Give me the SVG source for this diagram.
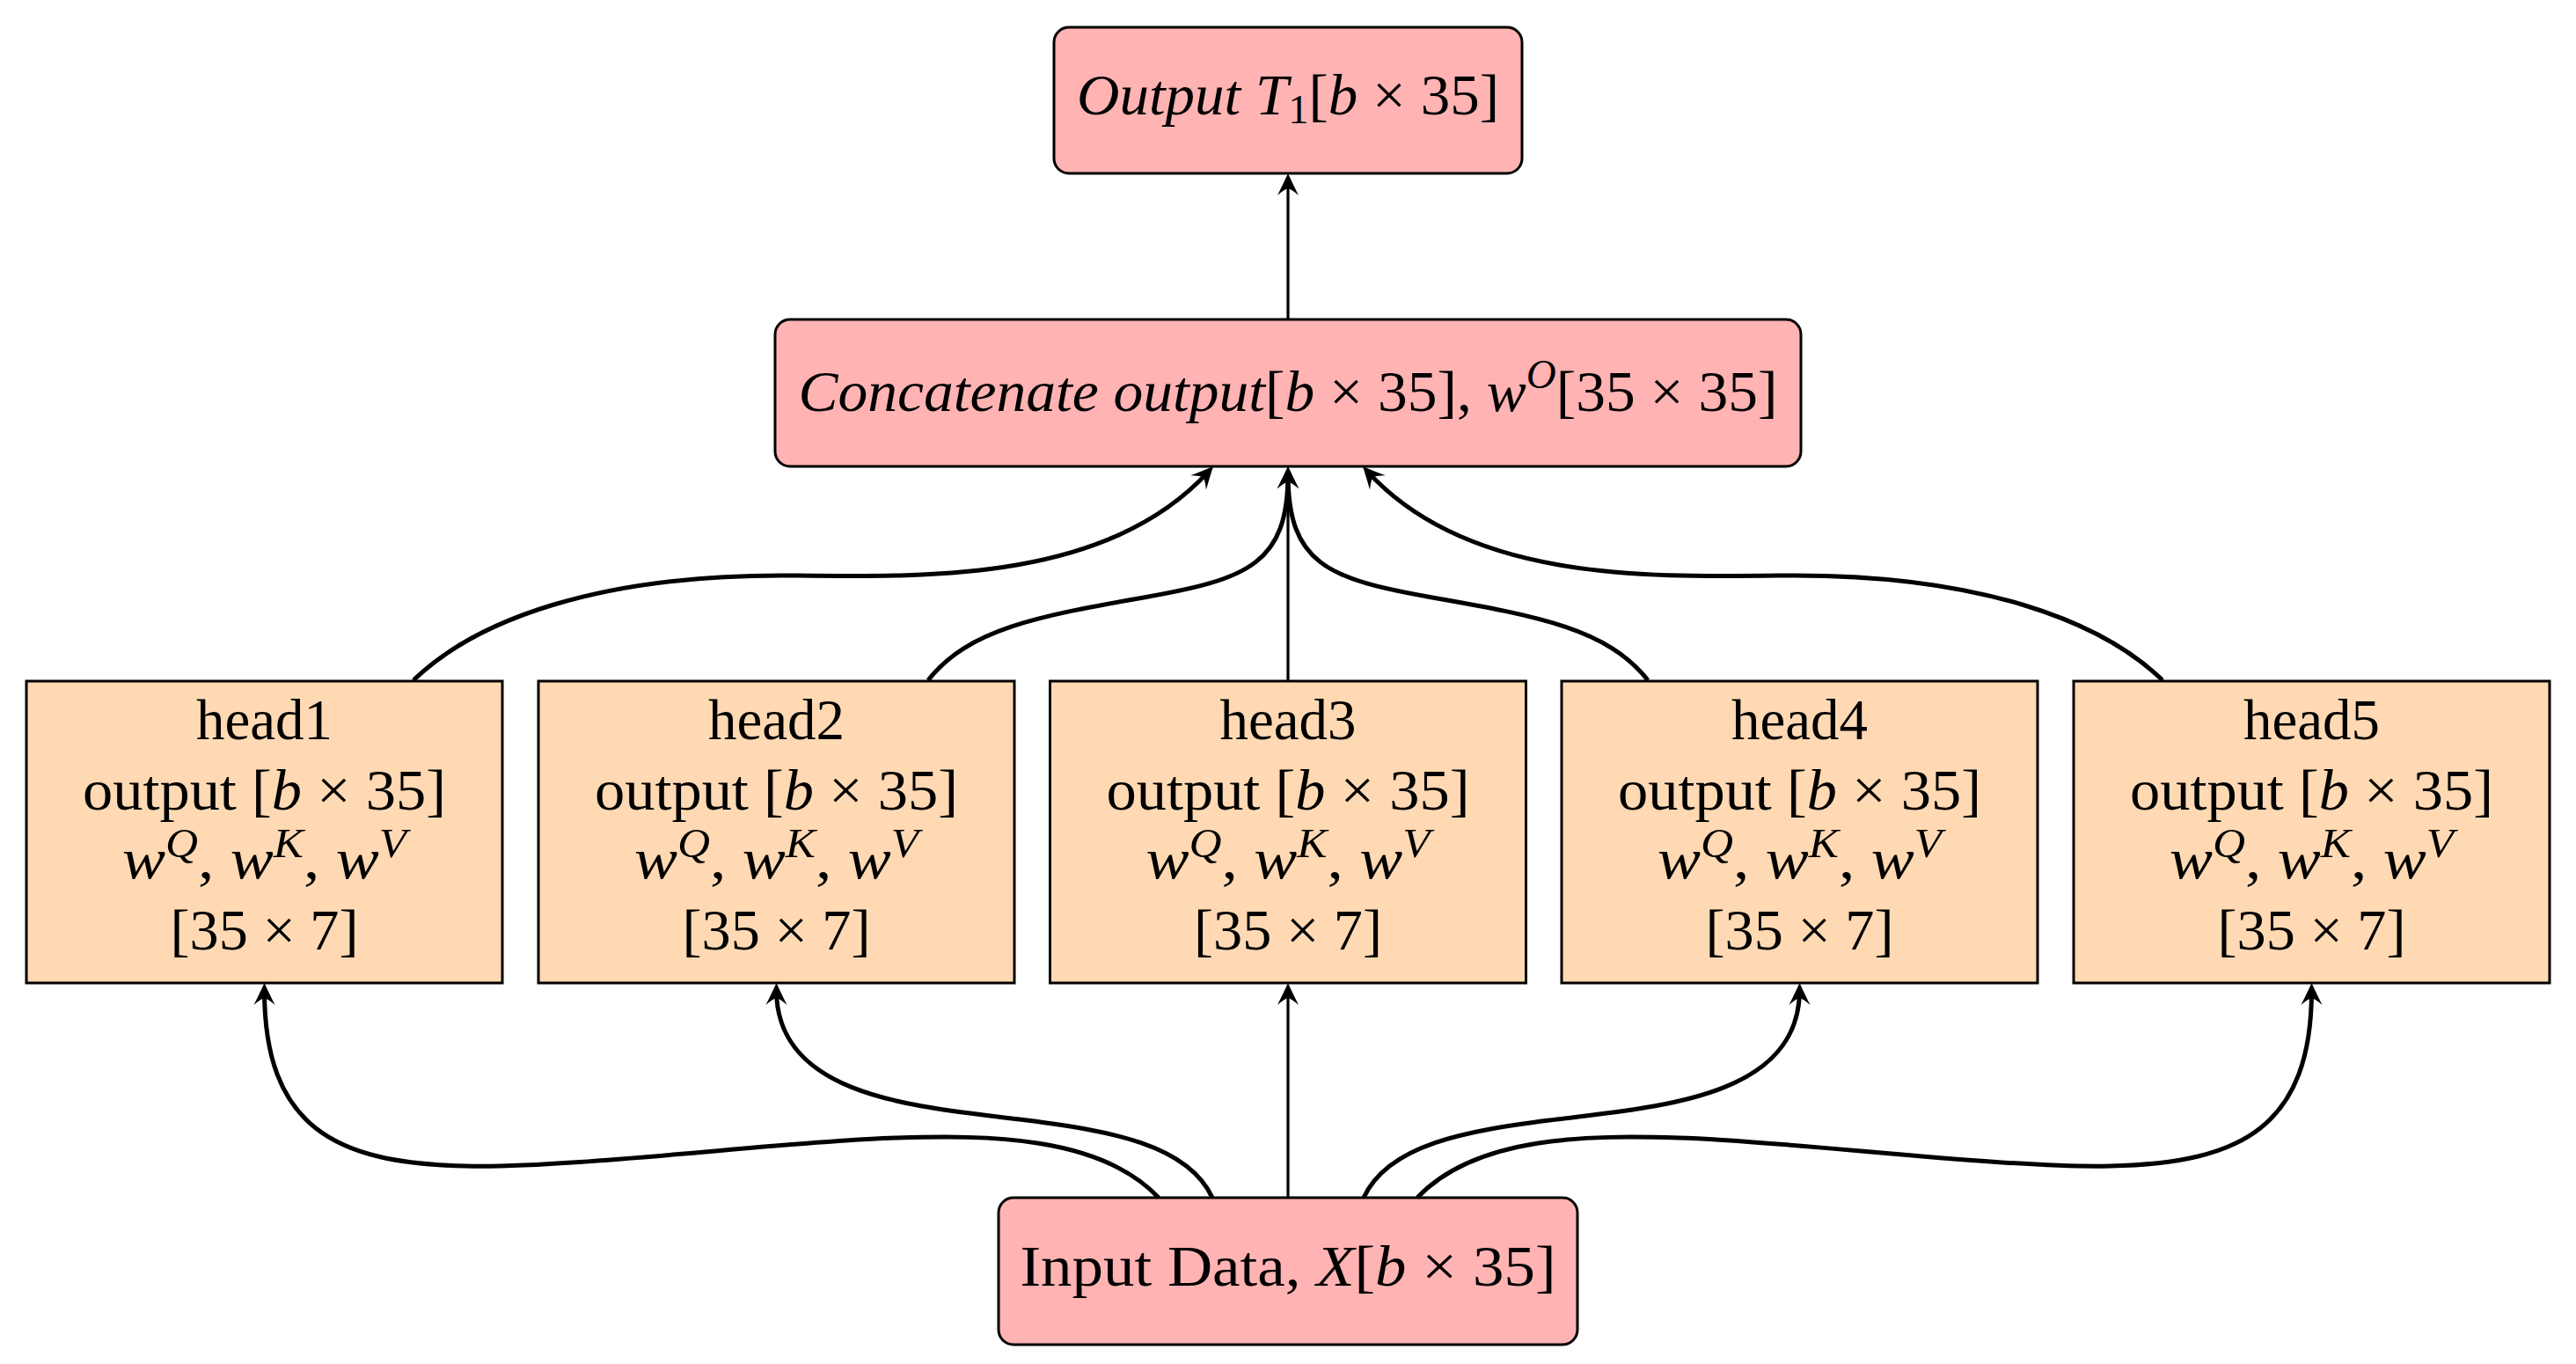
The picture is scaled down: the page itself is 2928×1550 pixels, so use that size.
<svg xmlns="http://www.w3.org/2000/svg" width="2928" height="1550" viewBox="0 0 2928 1550">
<style>
.pink{fill:#FFB3B3;stroke:#000;stroke-width:3}
.peach{fill:#FFD9B3;stroke:#000;stroke-width:3}
.t{font-family:"Liberation Serif","DejaVu Serif",serif;font-size:66px;fill:#000;text-anchor:middle}
.i{font-style:italic}
.sup{font-size:46px;font-style:italic}
.curve{fill:none;stroke:#000;stroke-width:5;marker-end:url(#ah)}
.str{fill:none;stroke:#000;stroke-width:3.2;marker-end:url(#ah)}
</style>
<defs>
<marker id="ah" markerUnits="userSpaceOnUse" orient="auto" refX="-8" refY="0" markerWidth="40" markerHeight="40" overflow="visible">
<path d="M0 0 Q-11 -5 -25 -12 Q-18 -4 -17 0 Q-18 4 -25 12 Q-11 5 0 0 Z" fill="#000"/>
</marker>
</defs>
<rect width="2928" height="1550" fill="#fff"/>

<g id="output">
<rect class="pink" x="1198" y="31" width="532" height="166" rx="17"/>
<text class="t i" x="1464" y="130" textLength="480" lengthAdjust="spacingAndGlyphs">Output <tspan>T</tspan><tspan font-size="46" font-style="normal" dy="10">1</tspan><tspan font-style="normal" dy="-10">[</tspan>b<tspan font-style="normal"> × 35]</tspan></text>
</g>

<g id="concat">
<rect class="pink" x="881" y="363" width="1166" height="167" rx="17"/>
<text class="t i" x="1464" y="467" textLength="1113" lengthAdjust="spacingAndGlyphs">Concatenate output<tspan font-style="normal">[</tspan>b<tspan font-style="normal"> × 35], </tspan>w<tspan class="sup" dy="-26">O</tspan><tspan font-style="normal" dy="26">[35 × 35]</tspan></text>
</g>

<g id="head1">
<rect class="peach" x="30" y="774" width="541" height="343"/>
<text class="t" x="300.5" y="840" textLength="155" lengthAdjust="spacingAndGlyphs">head1</text>
<text class="t" x="300.5" y="920" textLength="413" lengthAdjust="spacingAndGlyphs">output [<tspan class="i">b</tspan> × 35]</text>
<text class="t" x="300.5" y="998" textLength="323" lengthAdjust="spacingAndGlyphs"><tspan class="i">w</tspan><tspan class="sup" dy="-24">Q</tspan><tspan dy="24">, </tspan><tspan class="i">w</tspan><tspan class="sup" dy="-24">K</tspan><tspan dy="24">, </tspan><tspan class="i">w</tspan><tspan class="sup" dy="-24">V</tspan></text>
<text class="t" x="300.5" y="1079" textLength="214" lengthAdjust="spacingAndGlyphs">[35 × 7]</text>
</g>

<g id="head2">
<rect class="peach" x="612" y="774" width="541" height="343"/>
<text class="t" x="882.5" y="840" textLength="155" lengthAdjust="spacingAndGlyphs">head2</text>
<text class="t" x="882.5" y="920" textLength="413" lengthAdjust="spacingAndGlyphs">output [<tspan class="i">b</tspan> × 35]</text>
<text class="t" x="882.5" y="998" textLength="323" lengthAdjust="spacingAndGlyphs"><tspan class="i">w</tspan><tspan class="sup" dy="-24">Q</tspan><tspan dy="24">, </tspan><tspan class="i">w</tspan><tspan class="sup" dy="-24">K</tspan><tspan dy="24">, </tspan><tspan class="i">w</tspan><tspan class="sup" dy="-24">V</tspan></text>
<text class="t" x="882.5" y="1079" textLength="214" lengthAdjust="spacingAndGlyphs">[35 × 7]</text>
</g>

<g id="head3">
<rect class="peach" x="1193.5" y="774" width="541" height="343"/>
<text class="t" x="1464" y="840" textLength="155" lengthAdjust="spacingAndGlyphs">head3</text>
<text class="t" x="1464" y="920" textLength="413" lengthAdjust="spacingAndGlyphs">output [<tspan class="i">b</tspan> × 35]</text>
<text class="t" x="1464" y="998" textLength="323" lengthAdjust="spacingAndGlyphs"><tspan class="i">w</tspan><tspan class="sup" dy="-24">Q</tspan><tspan dy="24">, </tspan><tspan class="i">w</tspan><tspan class="sup" dy="-24">K</tspan><tspan dy="24">, </tspan><tspan class="i">w</tspan><tspan class="sup" dy="-24">V</tspan></text>
<text class="t" x="1464" y="1079" textLength="214" lengthAdjust="spacingAndGlyphs">[35 × 7]</text>
</g>

<g id="head4">
<rect class="peach" x="1775" y="774" width="541" height="343"/>
<text class="t" x="2045.5" y="840" textLength="155" lengthAdjust="spacingAndGlyphs">head4</text>
<text class="t" x="2045.5" y="920" textLength="413" lengthAdjust="spacingAndGlyphs">output [<tspan class="i">b</tspan> × 35]</text>
<text class="t" x="2045.5" y="998" textLength="323" lengthAdjust="spacingAndGlyphs"><tspan class="i">w</tspan><tspan class="sup" dy="-24">Q</tspan><tspan dy="24">, </tspan><tspan class="i">w</tspan><tspan class="sup" dy="-24">K</tspan><tspan dy="24">, </tspan><tspan class="i">w</tspan><tspan class="sup" dy="-24">V</tspan></text>
<text class="t" x="2045.5" y="1079" textLength="214" lengthAdjust="spacingAndGlyphs">[35 × 7]</text>
</g>

<g id="head5">
<rect class="peach" x="2357" y="774" width="541" height="343"/>
<text class="t" x="2627.5" y="840" textLength="155" lengthAdjust="spacingAndGlyphs">head5</text>
<text class="t" x="2627.5" y="920" textLength="413" lengthAdjust="spacingAndGlyphs">output [<tspan class="i">b</tspan> × 35]</text>
<text class="t" x="2627.5" y="998" textLength="323" lengthAdjust="spacingAndGlyphs"><tspan class="i">w</tspan><tspan class="sup" dy="-24">Q</tspan><tspan dy="24">, </tspan><tspan class="i">w</tspan><tspan class="sup" dy="-24">K</tspan><tspan dy="24">, </tspan><tspan class="i">w</tspan><tspan class="sup" dy="-24">V</tspan></text>
<text class="t" x="2627.5" y="1079" textLength="214" lengthAdjust="spacingAndGlyphs">[35 × 7]</text>
</g>

<g id="input">
<rect class="pink" x="1135" y="1361" width="658" height="167" rx="17"/>
<text class="t" x="1464" y="1461" textLength="609" lengthAdjust="spacingAndGlyphs">Input Data, <tspan class="i">X</tspan>[<tspan class="i">b</tspan> × 35]</text>
</g>

<g id="connectors">
<path class="str" d="M1464 363 L1464 205"/>
<path class="curve" d="M470 773 C540 705 680 652 900 654 C1060 656 1260 660 1373.6 535.9"/>
<path class="curve" d="M1055 773 C1100 715 1180 700 1300 679 C1420 658 1464 640 1464 538"/>
<path class="str" d="M1464 773 L1464 538"/>
<path class="curve" d="M1873 773 C1828 715 1748 700 1628 679 C1508 658 1464 640 1464 538"/>
<path class="curve" d="M2458 773 C2388 705 2248 652 2028 654 C1868 656 1668 660 1554.4 535.9"/>
<path class="curve" d="M1317 1361 C1250 1290 1120 1290 1020 1293 C900 1296 650 1328 529 1325 C380 1322 300.5 1280 300.5 1125"/>
<path class="curve" d="M1378 1361 C1350 1300 1260 1285 1167 1273 C1050 1258 882.5 1250 882.5 1125"/>
<path class="str" d="M1464 1361 L1464 1125"/>
<path class="curve" d="M1550 1361 C1578 1300 1668 1285 1761 1273 C1878 1258 2045.5 1250 2045.5 1125"/>
<path class="curve" d="M1611 1361 C1678 1290 1808 1290 1908 1293 C2028 1296 2278 1328 2399 1325 C2548 1322 2627.5 1280 2627.5 1125"/>
</g>
</svg>
